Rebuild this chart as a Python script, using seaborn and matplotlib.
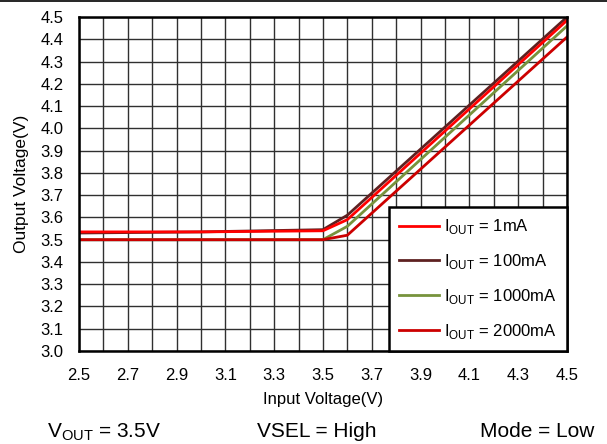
import numpy as np
import pandas as pd
import matplotlib
matplotlib.use('Agg')
import matplotlib.pyplot as plt
from matplotlib.lines import Line2D
import seaborn as sns

# data
labels = ['1mA', '100mA', '1000mA', '2000mA']
vin_1 = [2.5, 3.0, 3.5, 3.6, 4.5]
vout_1 = [3.535, 3.535, 3.54, 3.59, 4.485]
vin_100 = [2.5, 3.0, 3.5, 3.6, 4.5]
vout_100 = [3.53, 3.535, 3.545, 3.61, 4.50]
vin_1000 = [2.5, 3.0, 3.5, 3.6, 4.5]
vout_1000 = [3.50, 3.50, 3.50, 3.56, 4.46]
vin_2000 = [2.5, 3.0, 3.5, 3.6, 4.5]
vout_2000 = [3.50, 3.50, 3.50, 3.52, 4.41]

colors = ['#FF0000', '#5E2121', '#77933C', '#CC0000']

plt.rcParams['font.family'] = ['Liberation Sans', 'DejaVu Sans']
plt.rcParams['mathtext.fontset'] = 'custom'
plt.rcParams['mathtext.rm'] = 'Liberation Sans'

rows = []
for lab, xs, ys in zip(labels, [vin_1, vin_100, vin_1000, vin_2000],
                       [vout_1, vout_100, vout_1000, vout_2000]):
    for x, y in zip(xs, ys):
        rows.append({'vin': x, 'vout': y, 'load': lab})
df = pd.DataFrame(rows)

fig = plt.figure(figsize=(6.07, 4.44), dpi=100)
ax = fig.add_axes([0.130, 0.2095, 0.804, 0.752])

sns.lineplot(data=df, x='vin', y='vout', hue='load', hue_order=labels,
             palette=colors, estimator=None, sort=False, linewidth=2.0,
             legend=False, ax=ax)
# 100mA sits under the 1mA trace in the reference
for ln, z in zip(ax.lines, [2.3, 2.1, 2.2, 2.4]):
    ln.set_zorder(z)

ax.set_xlim(2.5, 4.5)
ax.set_ylim(3.0, 4.5)
ax.set_xticks(np.round(np.arange(2.5, 4.51, 0.2), 1))
ax.set_xticks(np.round(np.arange(2.6, 4.5, 0.2), 1), minor=True)
ax.set_yticks(np.round(np.arange(3.0, 4.51, 0.1), 1))
ax.set_xticklabels([f'{v:.1f}' for v in np.arange(2.5, 4.51, 0.2)])
ax.set_yticklabels([f'{v:.1f}' for v in np.arange(3.0, 4.51, 0.1)])
ax.grid(True, which='both', color='#303030', linewidth=1)
ax.set_axisbelow(True)
ax.tick_params(which='both', length=0, labelsize=12)
ax.tick_params(axis='y', pad=11)
ax.tick_params(axis='x', pad=12)
for s in ax.spines.values():
    s.set_linewidth(1.8)
    s.set_color('black')

ax.set_xlabel('Input Voltage(V)', fontsize=12, labelpad=7)
ax.set_ylabel('Output Voltage(V)', fontsize=12.5, labelpad=8)

handles = [Line2D([], [], color=c, linewidth=2.0) for c in colors]
leg_labels = [r'I$_{\mathregular{OUT}}$ = ' + l for l in labels]
leg = ax.legend(handles, leg_labels, loc='lower right', bbox_to_anchor=(1.0, 0.0),
                frameon=True, fancybox=False, framealpha=1, edgecolor='black',
                fontsize=12, handlelength=2.4, handletextpad=0.3, labelspacing=0.95,
                borderpad=0.6, borderaxespad=0)
leg.get_frame().set_linewidth(1.8)
leg.set_zorder(5)

fig.text(0.077, 0.015, r'V$_{\mathregular{OUT}}$ = 3.5V', fontsize=15)
fig.text(0.423, 0.015, 'VSEL = High', fontsize=15)
fig.text(0.791, 0.015, 'Mode = Low', fontsize=15)
fig.add_artist(Line2D([0, 1], [0.997, 0.997], color='black', linewidth=1.2,
                      transform=fig.transFigure))

plt.savefig('out.png', dpi=100)
